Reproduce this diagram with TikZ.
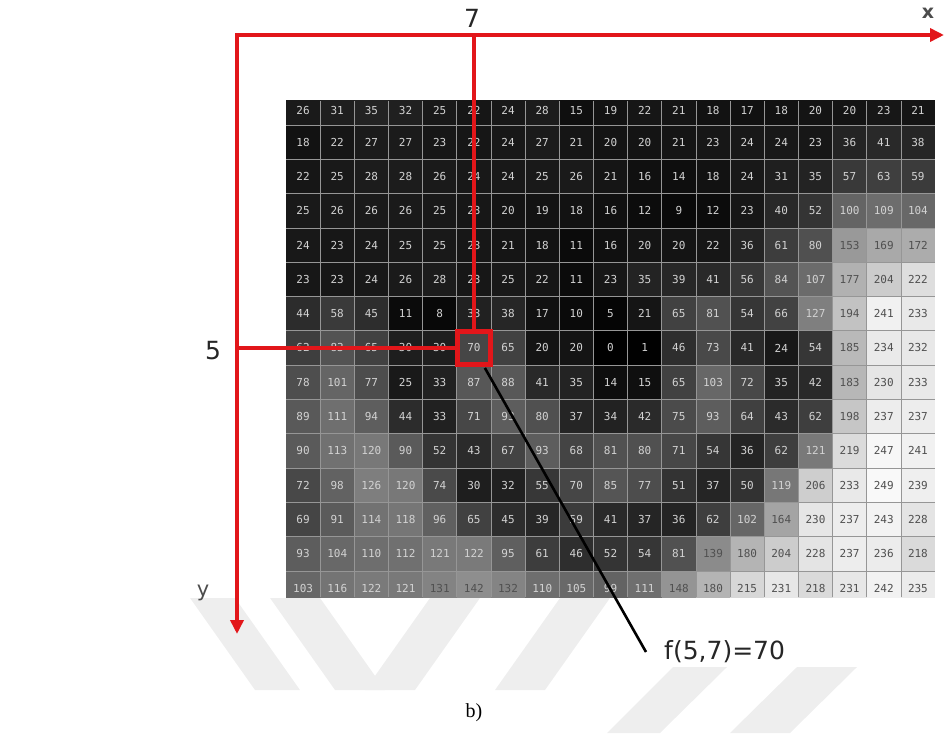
\documentclass[tikz,border=0pt]{standalone}
\usepackage{fontspec}
\setmainfont{DejaVu Sans}
\newfontfamily\monof{DejaVu Sans Mono}
\newfontfamily\serf{Liberation Serif}
\usetikzlibrary{arrows.meta}
\definecolor{axred}{RGB}{226,22,26}
\definecolor{wmgray}{RGB}{238,238,238}
\definecolor{lightnum}{RGB}{210,210,210}
\definecolor{darknum}{RGB}{80,80,80}
\definecolor{gridc}{RGB}{150,150,150}
\begin{document}
\begin{tikzpicture}[x=1pt,y=-1pt,
  axis/.style={draw=axred,line width=4pt,line join=miter},
  cellnum/.style={font=\monof\fontsize{11}{11}\selectfont,inner sep=0pt},
  biglab/.style={font=\fontsize{25}{25}\selectfont,text=black!85,inner sep=0pt},
  axlab/.style={font=\fontsize{21}{21}\selectfont,text=black!70,inner sep=0pt},
  wm/.style={fill=wmgray,draw=none}]
\useasboundingbox (0,0) rectangle (944,733);
% watermark stripes
\fill[wm] (190,598) -- (235,598) -- (300,690) -- (255,690) -- cycle;
\fill[wm] (270,598) -- (320,598) -- (385,690) -- (335,690) -- cycle;
\fill[wm] (430,598) -- (480,598) -- (415,690) -- (365,690) -- cycle;
\fill[wm] (560,598) -- (610,598) -- (545,690) -- (495,690) -- cycle;
\fill[wm] (673,667) -- (727,667) -- (660,733) -- (607,733) -- cycle;
\fill[wm] (797,667) -- (857,667) -- (790,733) -- (730,733) -- cycle;
% grid
\begin{scope}
\clip (286,101) rectangle (935,597);
\foreach \row [count=\r] in {
{26,31,35,32,25,22,24,28,15,19,22,21,18,17,18,20,20,23,21},
{18,22,27,27,23,22,24,27,21,20,20,21,23,24,24,23,36,41,38},
{22,25,28,28,26,24,24,25,26,21,16,14,18,24,31,35,57,63,59},
{25,26,26,26,25,23,20,19,18,16,12,9,12,23,40,52,100,109,104},
{24,23,24,25,25,23,21,18,11,16,20,20,22,36,61,80,153,169,172},
{23,23,24,26,28,23,25,22,11,23,35,39,41,56,84,107,177,204,222},
{44,58,45,11,8,33,38,17,10,5,21,65,81,54,66,127,194,241,233},
{62,83,65,30,30,70,65,20,20,0,1,46,73,41,24,54,185,234,232},
{78,101,77,25,33,87,88,41,35,14,15,65,103,72,35,42,183,230,233},
{89,111,94,44,33,71,93,80,37,34,42,75,93,64,43,62,198,237,237},
{90,113,120,90,52,43,67,93,68,81,80,71,54,36,62,121,219,247,241},
{72,98,126,120,74,30,32,55,70,85,77,51,37,50,119,206,233,249,239},
{69,91,114,118,96,65,45,39,59,41,37,36,62,102,164,230,237,243,228},
{93,104,110,112,121,122,95,61,46,52,54,81,139,180,204,228,237,236,218},
{103,116,122,121,131,142,132,110,105,99,111,148,180,215,231,218,231,242,235}} {
  \foreach \v [count=\c] in \row {
    \pgfmathsetmacro\g{\v/2.55}
    \pgfmathsetmacro\xa{286+(\c-1)*34.158}
    \pgfmathsetmacro\ya{90.7+(\r-1)*34.3}
    \pgfmathsetmacro\yc{\r==1 ? 110.5 : \ya+17.15}
    \ifnum\v<128 \def\tcol{lightnum}\else\def\tcol{darknum}\fi
    \fill[white!\g!black] (\xa,\ya) rectangle ++(34.158,34.3);
    \node[cellnum,text=\tcol] (n-\r-\c) at (\xa+17.08,\yc) {\v};
  }
}
\foreach \i in {1,...,18} \draw[gridc,line width=0.7pt] (286+\i*34.158,101) -- ++(0,496);
\foreach \j in {1,...,14} \draw[gridc,line width=0.7pt] (286,90.7+\j*34.3) -- ++(649,0);
\end{scope}
% axes
\coordinate (O) at (237,35);
\coordinate (xend) at (944,35);
\coordinate (yend) at (237,634);
\draw[axis,{Triangle[length=14pt,width=13pt]}-{Triangle[length=14pt,width=13pt]}] (xend) -- (O) -- (yend);
% selected pixel
\node[draw=axred,line width=5pt,minimum size=33pt,inner sep=0pt] (target) at (n-8-6.center) {};
\coordinate (top7) at (target.center |- O);
\coordinate (left5) at (O |- target.center);
\draw[axis] (top7) -- (target.north);
\draw[axis] (left5) -- (target.west);
% labels
\node[biglab] (lab7) at (472,18) {7};
\node[biglab] (lab5) at (213,351) {5};
\node[axlab,font=\bfseries\fontsize{19}{19}\selectfont] (labx) at (928,13) {x};
\node[axlab] (laby) at (203,593) {y};
\node[biglab,anchor=west] (fval) at (664,652) {f(5,7)=70};
\coordinate (pend) at (646,652);
\draw[black,line width=2.6pt] ([xshift=-8pt,yshift=-1pt]target.south east) -- (pend);
\node[font=\serf\fontsize{20}{20}\selectfont,inner sep=0pt] (cap) at (474,713) {b)};
\end{tikzpicture}
\end{document}
